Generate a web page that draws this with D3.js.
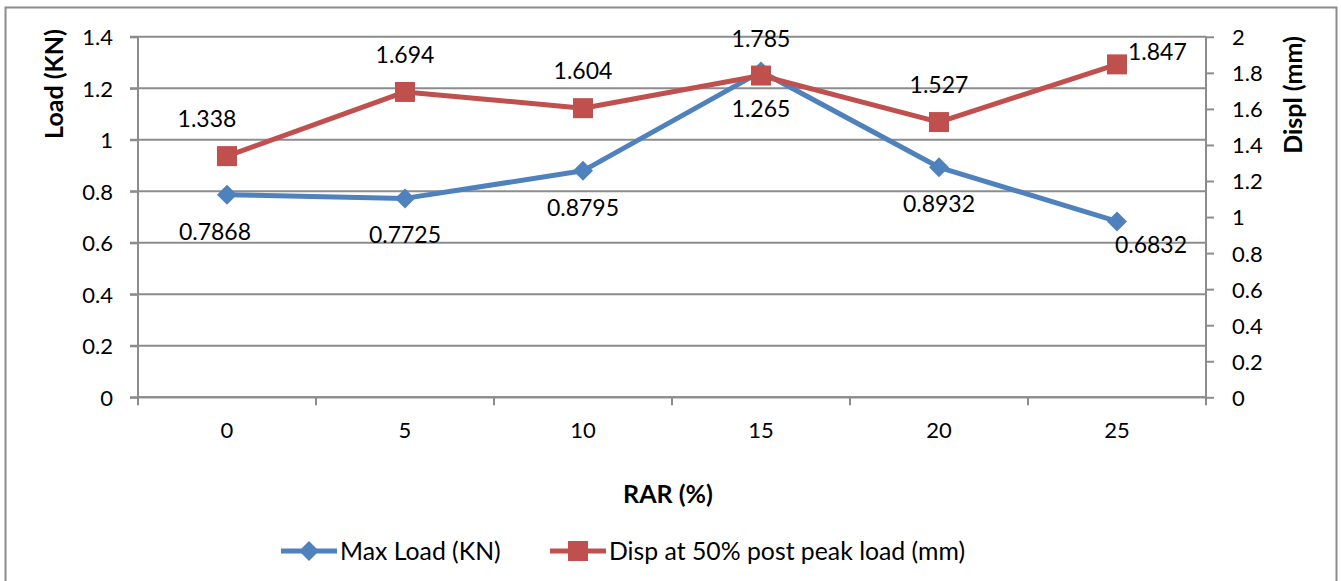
<!DOCTYPE html>
<html>
<head>
<meta charset="utf-8">
<script src="https://cdn.jsdelivr.net/npm/d3@7/dist/d3.min.js"></script>
<style>
body{margin:0;background:#fff;}
svg text{font-family:Lato,"Open Sans",sans-serif;fill:#000;}
</style>
</head>
<body>
<svg id="chart" width="1341" height="581"></svg>
<script>
// chart values
var categories = ["0", "5", "10", "15", "20", "25"];
var maxLoad = [0.7868, 0.7725, 0.8795, 1.265, 0.8932, 0.6832];
var dispPost = [1.338, 1.694, 1.604, 1.785, 1.527, 1.847];
var leftTicks = [0, 0.2, 0.4, 0.6, 0.8, 1, 1.2, 1.4];
var rightTicks = [0, 0.2, 0.4, 0.6, 0.8, 1, 1.2, 1.4, 1.6, 1.8, 2];
var seriesNames = ["Max Load (KN)", "Disp at 50% post peak load (mm)"];

// where each data label goes
var loadLabelPos = ["belowLeft", "below", "below", "below", "below", "belowRight"];
var dispLabelPos = ["aboveLeft", "above", "above", "above", "above", "right"];

var _color = {
	blue: "#4f81bd",
	red: "#c0504d",
	grid: "#8c8c8c"
};

var svg = d3.select("#chart"),
	margin = {top: 36.8, right: 135, bottom: 183.7, left: 138},
	width = +svg.attr("width") - margin.left - margin.right,
	height = +svg.attr("height") - margin.top - margin.bottom;

// outer chart border
svg.append("rect")
	.attr("x", 5.5).attr("y", 7.5)
	.attr("width", 1331).attr("height", 600)
	.attr("fill", "none").attr("stroke", "#8c8c8c").attr("stroke-width", 2);

var x = d3.scaleBand().domain(categories).range([0, width]),
	yL = d3.scaleLinear().domain([0, 1.4]).range([height, 0]),
	yR = d3.scaleLinear().domain([0, 2]).range([height, 0]);

var g = svg.append("g").attr("transform", "translate(" + margin.left + "," + margin.top + ")");

// gridlines
g.append("g").selectAll("line")
	.data(leftTicks).enter().append("line")
	.attr("x1", -8).attr("x2", width)
	.attr("y1", function(d){return yL(d);})
	.attr("y2", function(d){return yL(d);})
	.attr("stroke", _color.grid).attr("stroke-width", 2);

// left axis
var yAxisL = d3.axisLeft(yL).tickValues(leftTicks).tickSize(8).tickPadding(17)
	.tickFormat(function(d){return String(+d.toFixed(1));});
var gl = g.append("g").call(yAxisL);
gl.select(".domain").attr("stroke", _color.grid).attr("stroke-width", 2).attr("d", "M0," + height + "V0");
gl.selectAll(".tick line").attr("stroke", _color.grid).attr("stroke-width", 2);
gl.selectAll("text").attr("font-size", 22).attr("font-family", "Lato").attr("dy", "0.36em");

// right axis
var yAxisR = d3.axisRight(yR).tickValues(rightTicks).tickSize(8).tickPadding(18)
	.tickFormat(function(d){return String(+d.toFixed(1));});
var gr = g.append("g").attr("transform", "translate(" + width + ",0)").call(yAxisR);
gr.select(".domain").attr("stroke", _color.grid).attr("stroke-width", 2).attr("d", "M0," + height + "V0");
gr.selectAll(".tick line").attr("stroke", _color.grid).attr("stroke-width", 2);
gr.selectAll("text").attr("font-size", 22).attr("font-family", "Lato").attr("dy", "0.36em");

// x axis: ticks between categories
var gx = g.append("g").attr("transform", "translate(0," + height + ")");
gx.append("line").attr("x1", 0).attr("x2", width)
	.attr("stroke", _color.grid).attr("stroke-width", 2);
var bounds = categories.map(function(c){return x(c);}).concat([width]);
gx.selectAll(".xtick").data(bounds).enter().append("line")
	.attr("x1", function(d){return d;}).attr("x2", function(d){return d;})
	.attr("y1", 0).attr("y2", 8)
	.attr("stroke", _color.grid).attr("stroke-width", 2);
gx.selectAll(".xlab").data(categories).enter().append("text")
	.attr("x", function(d){return x(d) + x.bandwidth() / 2;})
	.attr("y", 41)
	.attr("text-anchor", "middle")
	.attr("font-size", 22)
	.text(function(d){return d;});

// axis titles
svg.append("text")
	.attr("transform", "translate(63,84) rotate(-90)")
	.attr("text-anchor", "middle").attr("font-weight", "bold").attr("font-size", 25)
	.text("Load (KN)");
svg.append("text")
	.attr("transform", "translate(1302,95) rotate(-90)")
	.attr("text-anchor", "middle").attr("font-weight", "bold").attr("font-size", 25)
	.text("Displ (mm)");
svg.append("text")
	.attr("x", 668).attr("y", 503)
	.attr("text-anchor", "middle").attr("font-weight", "bold").attr("font-size", 25)
	.text("RAR (%)");

var cx = function(d, i){return x(categories[i]) + x.bandwidth() / 2;};

var lineL = d3.line().x(cx).y(function(d){return yL(d);});
var lineR = d3.line().x(cx).y(function(d){return yR(d);});

var diamond = "M0,-10L10,0L0,10L-10,0Z";

// Max load series
g.append("path").datum(maxLoad)
	.attr("d", lineL).attr("fill", "none")
	.attr("stroke", _color.blue).attr("stroke-width", 5).attr("stroke-linejoin", "round");
g.selectAll(".dm").data(maxLoad).enter().append("path")
	.attr("d", diamond)
	.attr("transform", function(d, i){return "translate(" + cx(d, i) + "," + yL(d) + ")";})
	.attr("fill", _color.blue);

// displacement series (secondary axis, drawn on top)
g.append("path").datum(dispPost)
	.attr("d", lineR).attr("fill", "none")
	.attr("stroke", _color.red).attr("stroke-width", 5).attr("stroke-linejoin", "round");
g.selectAll(".sq").data(dispPost).enter().append("rect")
	.attr("x", function(d, i){return cx(d, i) - 10;})
	.attr("y", function(d){return yR(d) - 10;})
	.attr("width", 20).attr("height", 20)
	.attr("fill", _color.red);

// data labels
var placeLabel = function(sel, yScale, pos){
	sel.attr("x", function(d, i){
			var p = pos[i];
			if(p == "right") return cx(d, i) + 11;
			if(p == "belowRight") return cx(d, i) + 34;
			if(p == "belowLeft") return cx(d, i) - 12;
			if(p == "aboveLeft") return cx(d, i) - 20;
			return cx(d, i);
		})
		.attr("y", function(d, i){
			var p = pos[i];
			if(p == "below" || p == "belowLeft") return yScale(d) + 45;
			if(p == "belowRight") return yScale(d) + 32;
			if(p == "right") return yScale(d) - 4;
			return yScale(d) - 29;
		})
		.attr("text-anchor", function(d, i){return pos[i] == "right" ? "start" : "middle";})
		.attr("font-size", 23)
		.text(function(d){return d;});
};
g.selectAll(".ll").data(maxLoad).enter().append("text").call(placeLabel, yL, loadLabelPos);
g.selectAll(".rl").data(dispPost).enter().append("text").call(placeLabel, yR, dispLabelPos);

// legend
var legend = svg.append("g").attr("transform", "translate(0,551)");
var legendItems = [
	{name: seriesNames[0], color: _color.blue, x1: 281, x2: 337, marker: "diamond"},
	{name: seriesNames[1], color: _color.red, x1: 550, x2: 606, marker: "square"}
];
legendItems.forEach(function(it){
	legend.append("line").attr("x1", it.x1).attr("x2", it.x2)
		.attr("stroke", it.color).attr("stroke-width", 5);
	var mx = (it.x1 + it.x2) / 2;
	if(it.marker == "diamond"){
		legend.append("path").attr("d", diamond)
			.attr("transform", "translate(" + mx + ",0)").attr("fill", it.color);
	}else{
		legend.append("rect").attr("x", mx - 10).attr("y", -10)
			.attr("width", 20).attr("height", 20).attr("fill", it.color);
	}
	legend.append("text").attr("x", it.x2 + 3).attr("y", 8.5)
		.attr("font-size", 24.8)
		.text(it.name);
});
</script>
</body>
</html>
